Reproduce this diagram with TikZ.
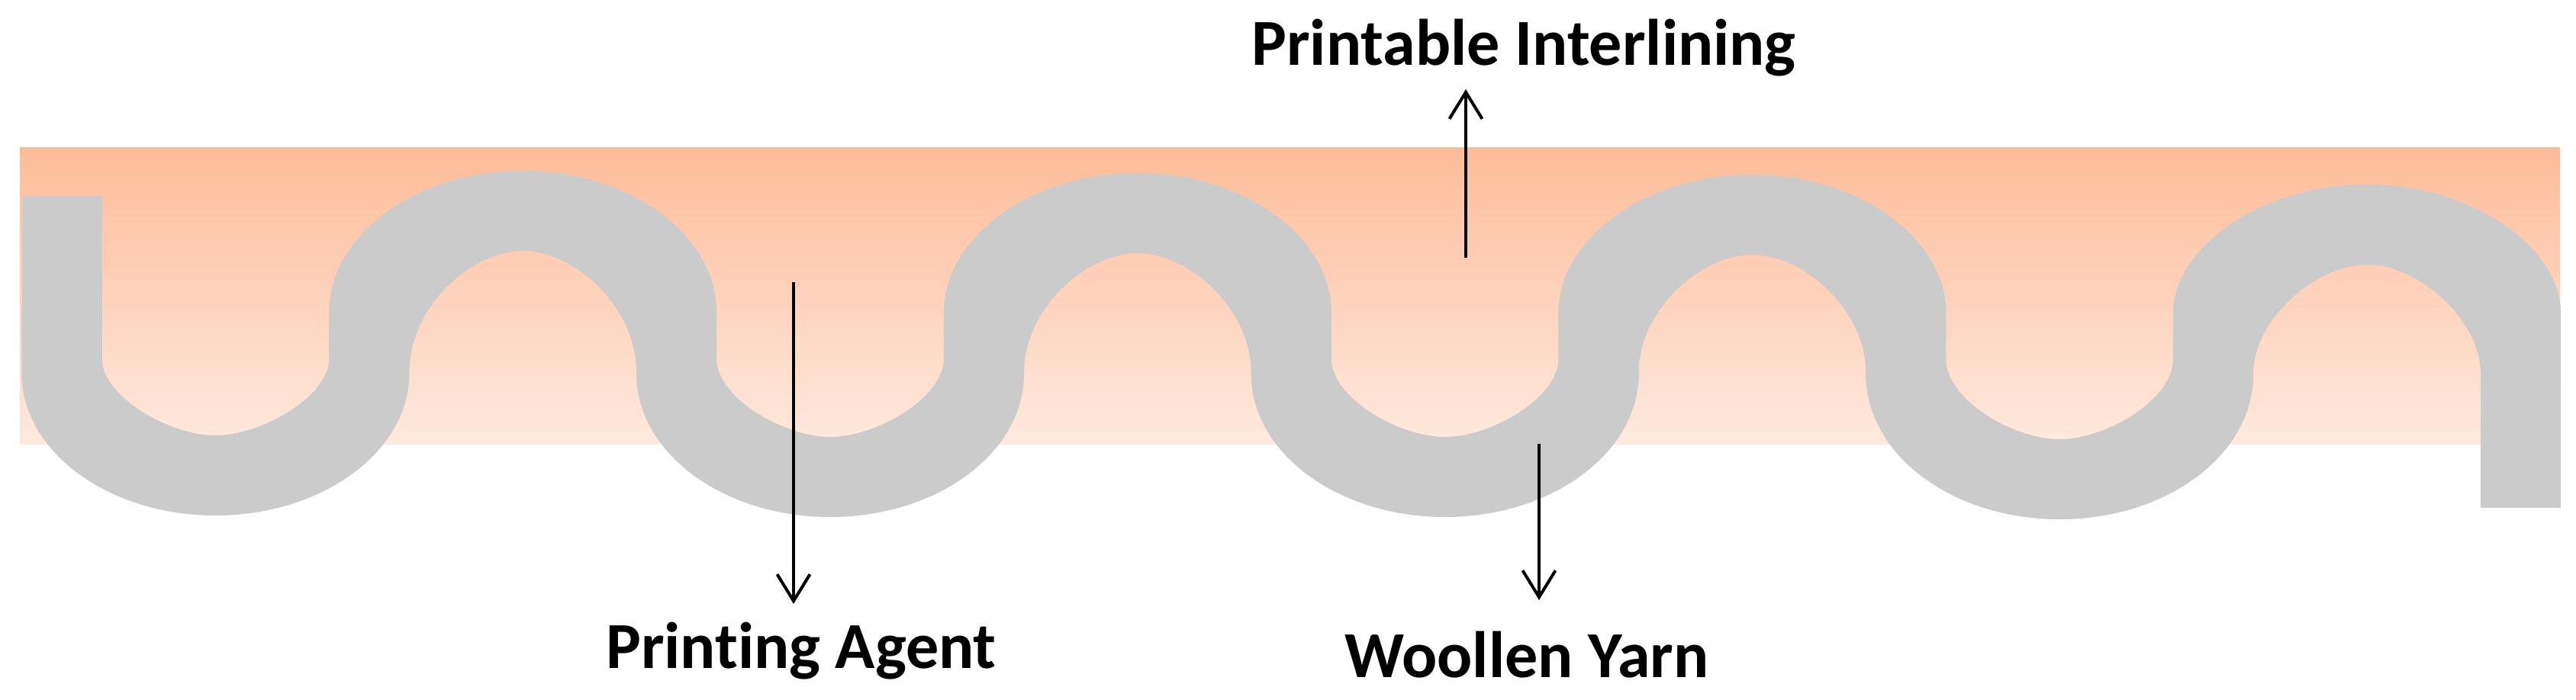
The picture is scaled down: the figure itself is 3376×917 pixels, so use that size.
\documentclass[tikz,border=0pt]{standalone}
\usepackage{fontspec}
\setmainfont{Carlito}[Ligatures=NoCommon]
\usetikzlibrary{arrows.meta}
\definecolor{peachtop}{RGB}{253,188,153}
\definecolor{peachbot}{RGB}{255,233,222}
\definecolor{yarngray}{RGB}{203,203,203}
\begin{document}
\begin{tikzpicture}[x=0.01cm,y=-0.01cm,
  yarn/.style={fill=yarngray, draw=none},
  txt/.style={font=\bfseries\fontsize{24.5}{29}\selectfont, inner sep=0pt, anchor=base},
  arr/.style={draw=black, line width=0.04cm, -{Straight Barb[length=0.35cm,width=0.43cm]}}]
\useasboundingbox (0,0) rectangle (3376,917);
% interlining layer
\shade[top color=peachtop, bottom color=peachbot] (26,193) rectangle (3355,582);
% woollen yarn: first and last straight legs
\fill[yarn] (28.5,257) rectangle (133.5,500);
\fill[yarn] (3250.9,400) rectangle (3355.9,666);
% downward loops (U)
\foreach \c/\d in {282.4/0, 1088/2, 1893.6/2, 2699.2/5}{
  \fill[yarn] ({\c-254},400) -- ({\c-254},490)
    .. controls ({\c-254},{592+\d}) and ({\c-140},{676+\d}) .. ({\c},{676+\d})
    .. controls ({\c+140},{676+\d}) and ({\c+254},{592+\d}) .. ({\c+254},490)
    -- ({\c+254},400) -- ({\c+149},400) -- ({\c+149},470)
    .. controls ({\c+149},{520+\d}) and ({\c+60},{571+\d}) .. ({\c},{571+\d})
    .. controls ({\c-60},{571+\d}) and ({\c-149},{520+\d}) .. ({\c-149},470)
    -- ({\c-149},400) -- cycle;
}
% upward loops (arches)
\foreach \c/\d in {685.2/0, 1490.8/3, 2296.4/5, 3102/18}{
  \fill[yarn] ({\c-254},500) -- ({\c-254},410)
    .. controls ({\c-254},{308+\d}) and ({\c-140},{224+\d}) .. ({\c},{224+\d})
    .. controls ({\c+140},{224+\d}) and ({\c+254},{308+\d}) .. ({\c+254},410)
    -- ({\c+254},500) -- ({\c+149},500) -- ({\c+149},490)
    .. controls ({\c+149},{401+\d}) and ({\c+67},{329+\d}) .. ({\c},{329+\d})
    .. controls ({\c-67},{329+\d}) and ({\c-149},{401+\d}) .. ({\c-149},490)
    -- ({\c-149},500) -- cycle;
}
% labels
\node[txt] (pi) at (1997,85) {Printable Interlining};
\node[txt] (pa) at (1050,876) {Printing Agent};
\node[txt] (wy) at (2001,888) {Woollen Yarn};
% arrow tails
\coordinate (pitail) at (1921,338);
\coordinate (patail) at (1040,370);
\coordinate (wytail) at (2017,582);
% arrows
\draw[arr, shorten >=0.32cm] (pitail) -- (pitail |- pi.base);
\draw[arr, shorten >=0.84cm] (patail) -- (patail |- pa.base);
\draw[arr, shorten >=1.01cm] (wytail) -- (wytail |- wy.base);
\end{tikzpicture}
\end{document}
